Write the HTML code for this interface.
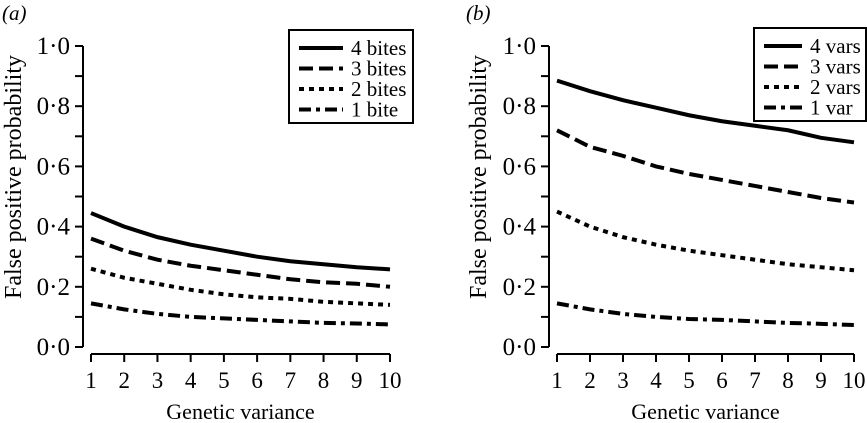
<!DOCTYPE html>
<html><head><meta charset="utf-8"><style>
html,body{margin:0;padding:0;background:#fff;}
svg{display:block;font-family:"Liberation Serif",serif;}
</style></head><body>
<svg id="c" width="867" height="423" viewBox="0 0 867 423"></svg>
<script>
const xCats=[1,2,3,4,5,6,7,8,9,10];
const yTicks=[0,0.2,0.4,0.6,0.8,1.0];
const yTickLabels=["0·0","0·2","0·4","0·6","0·8","1·0"];
const aNames=["4 bites","3 bites","2 bites","1 bite"];
const a4=[0.445,0.40,0.365,0.34,0.32,0.30,0.285,0.275,0.265,0.258];
const a3=[0.36,0.32,0.29,0.27,0.255,0.24,0.225,0.215,0.21,0.20];
const a2=[0.26,0.23,0.21,0.19,0.175,0.165,0.16,0.15,0.145,0.14];
const a1=[0.145,0.125,0.11,0.10,0.095,0.09,0.085,0.08,0.078,0.075];
const bNames=["4 vars","3 vars","2 vars","1 var"];
const b4=[0.885,0.85,0.82,0.795,0.77,0.75,0.735,0.72,0.695,0.68];
const b3=[0.72,0.665,0.635,0.60,0.575,0.555,0.535,0.515,0.495,0.48];
const b2=[0.45,0.40,0.365,0.34,0.32,0.305,0.29,0.275,0.265,0.255];
const b1=[0.145,0.125,0.11,0.10,0.093,0.09,0.085,0.08,0.077,0.073];

const NS="http://www.w3.org/2000/svg";
const svg=document.getElementById('c');
const dashes=["none","14,6","5,5","12,5,4,5"];
function mk(t,attrs,parent){const e=document.createElementNS(NS,t);for(const k in attrs)e.setAttribute(k,attrs[k]);(parent||svg).appendChild(e);return e;}

function panel(p){
  const g=mk('g',{});
  
  
  const X=v=>p.x0+(v-1)*(p.x1-p.x0)/9;
  const Y=v=>347-v*301;
  const lab=mk('text',{x:p.labX,y:20,'font-size':21,'font-style':'italic'},g);lab.textContent=p.label;
  
  
  const ya=mk('line',{x1:p.ax,y1:Y(1),x2:p.ax,y2:Y(0),stroke:'#000','stroke-width':2},g);
  
  
  for(let i=0;i<=10;i++){const v=i/10;mk('line',{x1:p.ax-8,y1:Y(v),x2:p.ax,y2:Y(v),stroke:'#000','stroke-width':2},g);}
  yTicks.forEach((v,i)=>{const t=mk('text',{x:p.ax-13,y:Y(v)+8,'font-size':25,'text-anchor':'end'},g);t.textContent=yTickLabels[i];
    
    });
  const yt=mk('text',{x:0,y:0,'font-size':24,'text-anchor':'middle',transform:`translate(${p.ytX},177) rotate(-90)`},g);yt.textContent="False positive probability";
  
  
  const xa=mk('line',{x1:X(1),y1:354,x2:X(10),y2:354,stroke:'#000','stroke-width':2},g);
  
  
  xCats.forEach(c=>{mk('line',{x1:X(c),y1:354,x2:X(c),y2:362,stroke:'#000','stroke-width':2},g);
    const t=mk('text',{x:X(c),y:388,'font-size':23,'text-anchor':'middle'},g);t.textContent=c;
    
    });
  const xt=mk('text',{x:(X(1)+X(10))/2,y:419,'font-size':22,'text-anchor':'middle'},g);xt.textContent="Genetic variance";
  
  
  p.series.forEach((s,k)=>{const pts=s.map((v,i)=>X(xCats[i])+','+Y(v)).join(' ');
    const l=mk('polyline',{points:pts,fill:'none',stroke:'#000','stroke-width':4,'stroke-dasharray':dashes[k]},g);
    
    });
  const lg=mk('g',{},g);
  
  
  mk('rect',{x:p.lx,y:p.ly,width:p.lw,height:93,fill:'#fff',stroke:'#000','stroke-width':2},lg);
  p.names.forEach((n,k)=>{const yy=p.ly+18+k*20.5;
    mk('line',{x1:p.lx+10,y1:yy,x2:p.lx+p.ll,y2:yy,stroke:'#000','stroke-width':4,'stroke-dasharray':dashes[k]},lg);
    const t=mk('text',{x:p.lx+p.ll+8,y:yy+7,'font-size':21},lg);t.textContent=n;
    
    });
}
panel({id:'a',label:'(a)',labX:2,ax:83,x0:91,x1:390,ytX:21,lx:289,ly:30,lw:124,ll:54,names:aNames,series:[a4,a3,a2,a1]});
panel({id:'b',label:'(b)',labX:466,ax:549,x0:557,x1:854,ytX:486,lx:754,ly:28,lw:112,ll:48,names:bNames,series:[b4,b3,b2,b1]});
</script>
</body></html>
